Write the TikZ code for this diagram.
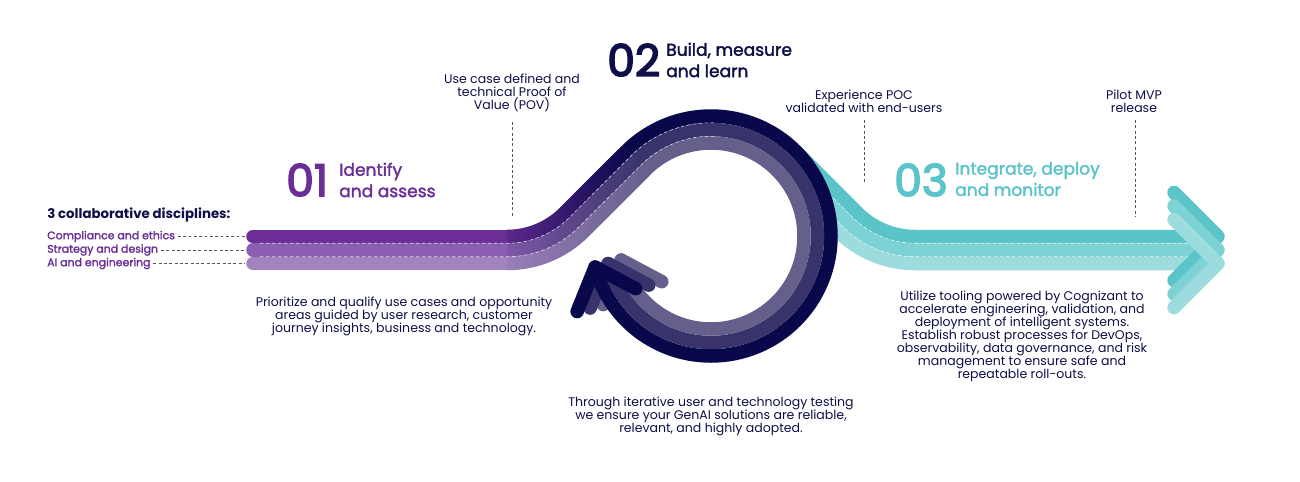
\documentclass[tikz,border=0pt]{standalone}
\usepackage{fontspec}
\setmainfont{Poppins}
\newfontfamily\medfont{Poppins}[FakeBold=2]
\newfontfamily\numfont{Poppins}[FakeBold=3.5]
\usetikzlibrary{calc,fadings}

\definecolor{purpA}{HTML}{6A2E96}
\definecolor{purpB}{HTML}{8A5EB0}
\definecolor{purpC}{HTML}{A283C0}
\definecolor{navyA}{HTML}{08084A}
\definecolor{navyB}{HTML}{38346B}
\definecolor{navyC}{HTML}{645F8B}
\definecolor{tealA}{HTML}{5BC4C9}
\definecolor{tealB}{HTML}{7DD2D5}
\definecolor{tealC}{HTML}{9CDCDE}
\definecolor{ink}{HTML}{0E0E48}
\definecolor{leadgray}{HTML}{555555}

\tikzfading[name=fadein, left color=transparent!90, right color=transparent!0]

\tikzset{
  band/.style={line width=10.125pt, line cap=butt},
  chev/.style={line width=10.125pt, line cap=round, line join=round},
  sep/.style={white, opacity=0.75, line width=0.45pt, dash pattern=on 2.5pt off 2pt},
  leader/.style={leadgray, line width=0.7pt, dash pattern=on 2.2pt off 1.8pt},
  body/.style={ink, align=center, inner sep=0pt, font=\fontsize{9.4}{9.75}\selectfont},
  bignum/.style={anchor=west, inner sep=0pt, font=\numfont\fontsize{33}{33}\selectfont},
  phase/.style={anchor=west, align=left, inner sep=0pt, font=\medfont\fontsize{12.8}{16}\selectfont},
  track/.style={purpA, anchor=west, inner sep=0pt, font=\medfont\fontsize{8.2}{10}\selectfont}
}

\begin{document}
\begin{tikzpicture}[x=0.75pt, y=-0.75pt]
\useasboundingbox (0,0) rectangle (1300,482);

\coordinate (C) at (711,236);
\coordinate (Eb) at (507,155);
\coordinate (Ex) at (915,155);

% teal exit
\draw[band,tealA] ($(C)+(315:120)$) -- ($(Ex)+(135:81.5)$) arc[start angle=135,end angle=90,radius=81.5] -- (1218,236.5);
\draw[band,tealB] ($(C)+(315:106.5)$) -- ($(Ex)+(135:95)$) arc[start angle=135,end angle=90,radius=95] -- (1218,250);
\draw[band,tealC] ($(C)+(315:93)$) -- ($(Ex)+(135:108.5)$) arc[start angle=135,end angle=90,radius=108.5] -- (1218,263.5);
\draw[sep] ($(C)+(315:113.25)$) -- ($(Ex)+(135:88.25)$) arc[start angle=135,end angle=90,radius=88.25] -- (1200,243.25);
\draw[sep] ($(C)+(315:99.75)$) -- ($(Ex)+(135:101.75)$) arc[start angle=135,end angle=90,radius=101.75] -- (1200,256.75);
\draw[chev,tealA] (1174,192.5) -- (1218,236.5) -- (1174,280.5);
\draw[chev,tealB] (1174,206) -- (1218,250) -- (1174,294);
\draw[chev,tealC] (1174,219.5) -- (1218,263.5) -- (1174,307.5);

% purple entry
\draw[band,purpA,line cap=round] (253,236.5) -- (508,236.5);
\draw[band,purpB,line cap=round] (253,250) -- (508,250);
\draw[band,purpC,line cap=round] (253,263.5) -- (508,263.5);
\draw[band,purpA] (507,236.5) arc[start angle=90,end angle=45,radius=81.5] -- ($(C)+(225:120)$);
\draw[band,purpB] (507,250) arc[start angle=90,end angle=45,radius=95] -- ($(C)+(225:106.5)$);
\draw[band,purpC] (507,263.5) arc[start angle=90,end angle=45,radius=108.5] -- ($(C)+(225:93)$);
\draw[band,navyA,path fading=fadein] (507,236.5) arc[start angle=90,end angle=45,radius=81.5] -- ($(C)+(225:120)$);
\draw[band,navyB,path fading=fadein] (507,250) arc[start angle=90,end angle=45,radius=95] -- ($(C)+(225:106.5)$);
\draw[band,navyC,path fading=fadein] (507,263.5) arc[start angle=90,end angle=45,radius=108.5] -- ($(C)+(225:93)$);

% loop, arrow head
\draw[chev,navyC] ($(C)+(165:93)$) -- ++(112:48);
\draw[chev,navyB] ($(C)+(165:106.5)$) -- ++(112:48);
\draw[chev,navyA] ($(C)+(165:120)$) -- ++(112:48);
\draw[band,navyA] ($(C)+(225:120)$) arc[start angle=225,end angle=525,radius=120];
\draw[band,navyB] ($(C)+(225:106.5)$) arc[start angle=225,end angle=525,radius=106.5];
\draw[band,navyC] ($(C)+(225:93)$) arc[start angle=225,end angle=525,radius=93];
\draw[chev,navyC] ($(C)+(165:93)$) -- ++(28:46);
\draw[chev,navyB] ($(C)+(165:106.5)$) -- ++(28:46);
\draw[chev,navyA] ($(C)+(165:120)$) -- ++(28:46);

\draw[sep] (260,243.25) -- (507,243.25) arc[start angle=90,end angle=45,radius=88.25] -- ($(C)+(225:113.25)$) arc[start angle=225,end angle=272,radius=113.25];
\draw[sep] (260,256.75) -- (507,256.75) arc[start angle=90,end angle=45,radius=101.75] -- ($(C)+(225:99.75)$) arc[start angle=225,end angle=272,radius=99.75];

% left labels
\node[ink, anchor=west, inner sep=0pt, font=\bfseries\fontsize{10}{12}\selectfont] (disc) at (47,215) {3 collaborative disciplines:};
\node[track] (ethics) at (47,236.5) {Compliance and ethics};
\node[track] (design) at (47,250) {Strategy and design};
\node[track] (aieng) at (47,263.5) {AI and engineering};
\coordinate (s0) at (245,236.5);
\coordinate (s1) at (245,250);
\coordinate (s2) at (245,263.5);
\draw[leader] ([xshift=2pt]ethics.east) -- (s0);
\draw[leader] ([xshift=2pt]design.east) -- (s1);
\draw[leader] ([xshift=2pt]aieng.east) -- (s2);

% phases
\node[bignum, purpA] (n01) at (286,180) {01};
\node[phase, purpA] (p01) at (339,180) {Identify\\and assess};
\node[bignum, ink] (n02) at (607,60) {02};
\node[phase, ink] (p02) at (666,60) {Build, measure\\and learn};
\node[bignum, tealA] (n03) at (894,180) {03};
\node[phase, tealA] (p03) at (955,179) {Integrate, deploy\\and monitor};

% milestones
\node[body] (pov) at (512,93) {Use case defined and\\technical Proof of\\Value (POV)};
\node[body] (poc) at (864,101) {Experience POC\\validated with end-users};
\node[body] (mvp) at (1134,101) {Pilot MVP\\release};
\coordinate (povend) at (512,217);
\coordinate (pocend) at (864,183);
\coordinate (mvpend) at (1135,217);
\draw[leader] (512,122) -- (povend);
\draw[leader] (864,120) -- (pocend);
\draw[leader] (1135,120) -- (mvpend);

% descriptions
\node[body] (d01) at (404,316) {Prioritize and qualify use cases and opportunity\\areas guided by user research, customer\\journey insights, business and technology.};
\node[body] (d02) at (711,416) {Through iterative user and technology testing\\we ensure your GenAI solutions are reliable,\\relevant, and highly adopted.};
\node[body] (d03) at (1022,336) {Utilize tooling powered by Cognizant to\\accelerate engineering, validation, and\\deployment of intelligent systems.\\Establish robust processes for DevOps,\\observability, data governance, and risk\\management to ensure safe and\\repeatable roll-outs.};

\end{tikzpicture}
\end{document}
